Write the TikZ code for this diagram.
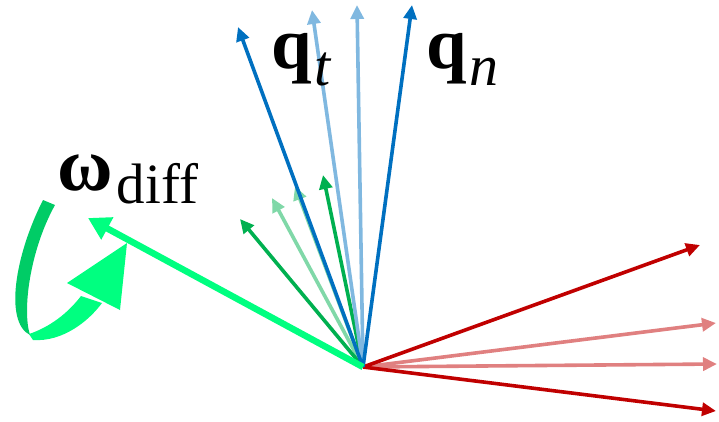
\documentclass[tikz,border=0pt]{standalone}
\usepackage{fontspec}
\newfontfamily\lib{Liberation Serif}
\usetikzlibrary{arrows.meta}
\definecolor{dred}{HTML}{C00000}
\definecolor{lred}{HTML}{E08080}
\definecolor{dblue}{HTML}{0070C0}
\definecolor{lblue}{HTML}{80B8E0}
\definecolor{dgreen}{HTML}{00B050}
\definecolor{lgreen}{HTML}{80D8A8}
\definecolor{bgreen}{HTML}{00FF80}
\definecolor{mgreen}{HTML}{00CC66}
\tikzset{
  vec/.style={line width=3.6pt, line cap=butt, -{Triangle[length=14pt,width=13pt]}},
  bigvec/.style={line width=6.5pt, line cap=butt, -{Triangle[length=22pt,width=24pt]}},
  lbl/.style={anchor=base west, inner sep=0pt, text=black}
}
\begin{document}
\begin{tikzpicture}[x=1pt,y=-1pt]
\path[use as bounding box] (0,0) rectangle (719,421);
\coordinate (O) at (363,367);
% red
\coordinate (r1) at (700,245);
\coordinate (r2) at (716,323);
\coordinate (r3) at (717,364);
\coordinate (r4) at (716,411);
% green
\coordinate (g1) at (240,219);
\coordinate (g2) at (272,198);
\coordinate (g3) at (295,186);
\coordinate (g4) at (323,175);
% blue
\coordinate (b1) at (238,27);
\coordinate (b2) at (312,10);
\coordinate (b3) at (357,5);
\coordinate (b4) at (412,5);
\coordinate (w) at (88,218);

\draw[vec,lred] (O) -- (r2);
\draw[vec,lred] (O) -- (r3);
\draw[vec,dred] (O) -- (r1);
\draw[vec,dred] (O) -- (r4);

\draw[vec,lgreen] (O) -- (g2);
\draw[vec,lgreen] (O) -- (g3);
\draw[vec,dgreen] (O) -- (g1);
\draw[vec,dgreen] (O) -- (g4);

\draw[vec,lblue] (O) -- (b2);
\draw[vec,lblue] (O) -- (b3);
\draw[vec,dblue] (O) -- (b1);
\draw[vec,dblue] (O) -- (b4);

\draw[bigvec,bgreen] (O) -- (w);

% curved rotation arrow
\fill[mgreen] (43,200) .. controls (15,255) and (4,322) .. (30,335)
  .. controls (22,310) and (30,250) .. (55,205) -- cycle;
\fill[bgreen] (29,334) -- (33,340) .. controls (62,342) and (88,322) .. (102,303)
  -- (81,296) .. controls (68,313) and (50,327) .. (29,334) -- cycle;
\fill[bgreen] (67,283) -- (127,243) -- (120,310) -- cycle;

% labels
\node[lbl] (qt) at (271,68) {\lib\bfseries\fontsize{73}{80}\selectfont q\kern3pt\raisebox{-17pt}{\mdseries\itshape\fontsize{58}{60}\selectfont t}};
\node[lbl] (qn) at (426,68) {\lib\bfseries\fontsize{73}{80}\selectfont q\kern3pt\raisebox{-17pt}{\mdseries\itshape\fontsize{58}{60}\selectfont n}};
\node[lbl] (wd) at (57,190) {\lib\bfseries\fontsize{76}{80}\selectfont ω\kern4pt\raisebox{-13pt}{\mdseries\fontsize{57}{60}\selectfont diff}};
\end{tikzpicture}
\end{document}
